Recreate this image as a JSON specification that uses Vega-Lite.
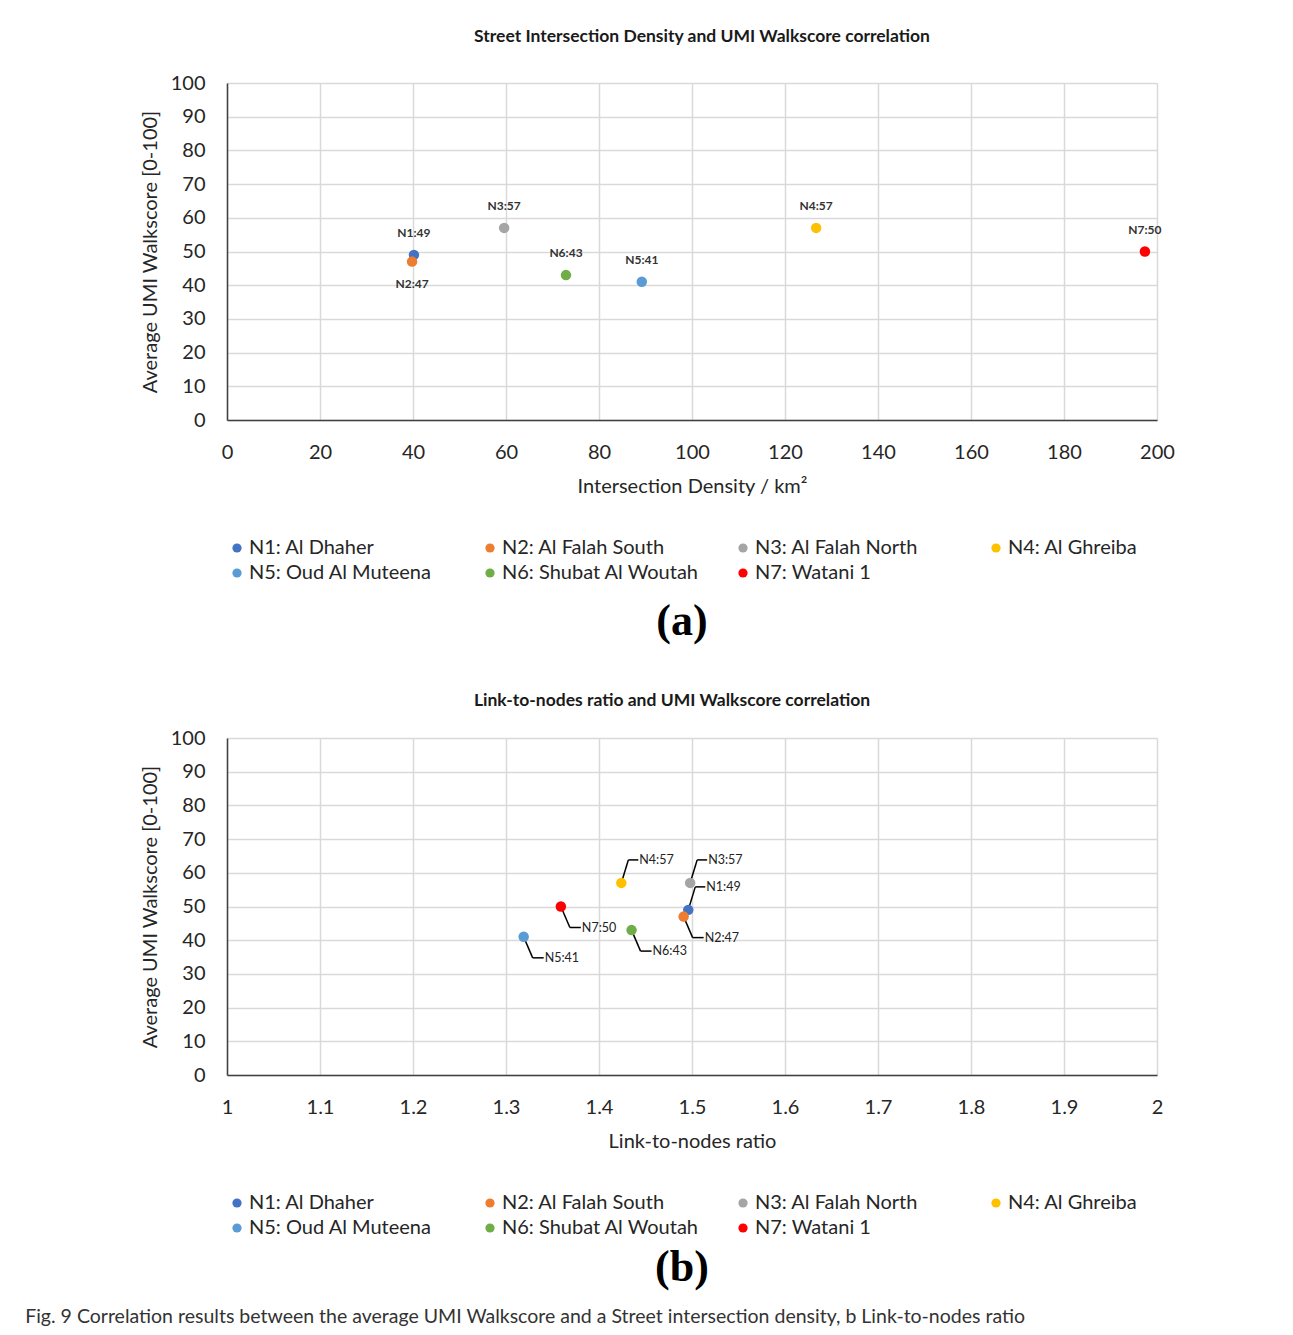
{
  "$schema": "https://vega.github.io/schema/vega-lite/v6.json",
  "padding": {"left": 25, "top": 27, "right": 10, "bottom": 0},
  "background": "white",
  "datasets": {
    "pts": [
      {"id": "N1", "name": "N1: Al Dhaher", "label": "N1:49", "density": 40.2, "ratio": 1.496, "score": 49},
      {"id": "N2", "name": "N2: Al Falah South", "label": "N2:47", "density": 39.8, "ratio": 1.491, "score": 47},
      {"id": "N3", "name": "N3: Al Falah North", "label": "N3:57", "density": 59.6, "ratio": 1.498, "score": 57},
      {"id": "N4", "name": "N4: Al Ghreiba", "label": "N4:57", "density": 126.7, "ratio": 1.424, "score": 57},
      {"id": "N5", "name": "N5: Oud Al Muteena", "label": "N5:41", "density": 89.2, "ratio": 1.319, "score": 41},
      {"id": "N6", "name": "N6: Shubat Al Woutah", "label": "N6:43", "density": 72.9, "ratio": 1.435, "score": 43},
      {"id": "N7", "name": "N7: Watani 1", "label": "N7:50", "density": 197.4, "ratio": 1.359, "score": 50}
    ]
  },
  "title": {
    "text": "Fig. 9  Correlation results between the average UMI Walkscore and a Street intersection density, b Link-to-nodes ratio",
    "orient": "bottom",
    "anchor": "start",
    "dx": -115,
    "offset": 18,
    "font": "Lato",
    "fontSize": 19.5,
    "fontWeight": "normal",
    "color": "#333333"
  },
  "spacing": 47,
  "resolve": {"scale": {"color": "independent"}, "legend": {"color": "independent"}},
  "vconcat": [
    {
      "title": {"text": "Street Intersection Density and UMI Walkscore correlation", "offset": 28, "dx": 10},
      "width": 930,
      "height": 337,
      "data": {"name": "pts"},
      "encoding": {
        "x": {"field": "density", "type": "quantitative", "scale": {"domain": [0, 200], "nice": false},
              "axis": {"title": "Intersection Density / km²", "values": [0, 20, 40, 60, 80, 100, 120, 140, 160, 180, 200]}},
        "y": {"field": "score", "type": "quantitative", "scale": {"domain": [0, 100], "nice": false},
              "axis": {"title": "Average UMI Walkscore  [0-100]", "values": [0, 10, 20, 30, 40, 50, 60, 70, 80, 90, 100]}}
      },
      "layer": [
        {
          "mark": {"type": "point", "filled": true, "opacity": 1, "size": 110, "shape": "circle"},
          "encoding": {
            "color": {"field": "name", "type": "nominal",
              "scale": {"domain": ["N1: Al Dhaher", "N2: Al Falah South", "N3: Al Falah North", "N4: Al Ghreiba", "N5: Oud Al Muteena", "N6: Shubat Al Woutah", "N7: Watani 1"],
                        "range": ["#4472C4", "#ED7D31", "#A5A5A5", "#FFC000", "#5B9BD5", "#70AD47", "#FF0000"]},
              "legend": {"title": "(a)", "titlePadding": 17}}
          }
        },
        {
          "transform": [{"filter": "datum.id != 'N2'"}],
          "mark": {"type": "text", "dy": -22, "font": "Lato", "fontSize": 12, "fontWeight": "bold", "color": "#333333"},
          "encoding": {"text": {"field": "label"}}
        },
        {
          "transform": [{"filter": "datum.id == 'N2'"}],
          "mark": {"type": "text", "dy": 22, "font": "Lato", "fontSize": 12, "fontWeight": "bold", "color": "#333333"},
          "encoding": {"text": {"field": "label"}}
        }
      ]
    },
    {
      "title": {"text": "Link-to-nodes ratio and UMI Walkscore correlation", "offset": 19, "dx": -20},
      "width": 930,
      "height": 337,
      "data": {"name": "pts"},
      "encoding": {
        "x": {"field": "ratio", "type": "quantitative", "scale": {"domain": [1, 2], "nice": false},
              "axis": {"title": "Link-to-nodes ratio", "format": ".1~f", "values": [1, 1.1, 1.2, 1.3, 1.4, 1.5, 1.6, 1.7, 1.8, 1.9, 2]}},
        "y": {"field": "score", "type": "quantitative", "scale": {"domain": [0, 100], "nice": false},
              "axis": {"title": "Average UMI Walkscore  [0-100]", "values": [0, 10, 20, 30, 40, 50, 60, 70, 80, 90, 100]}}
      },
      "layer": [
        {
          "transform": [{"filter": "indexof(['N1','N3','N4'], datum.id) >= 0"}],
          "mark": {"type": "rule", "color": "#000000", "strokeWidth": 1.5, "x2Offset": 7, "y2Offset": -23},
          "encoding": {"x2": {"field": "ratio"}, "y2": {"field": "score"}}
        },
        {
          "transform": [{"filter": "indexof(['N1','N3','N4'], datum.id) >= 0"}],
          "mark": {"type": "rule", "color": "#000000", "strokeWidth": 1.5, "xOffset": 7, "yOffset": -23, "x2Offset": 17, "y2Offset": -23},
          "encoding": {"x2": {"field": "ratio"}, "y2": {"field": "score"}}
        },
        {
          "transform": [{"filter": "indexof(['N1','N3','N4'], datum.id) < 0"}],
          "mark": {"type": "rule", "color": "#000000", "strokeWidth": 1.5, "x2Offset": 9, "y2Offset": 21},
          "encoding": {"x2": {"field": "ratio"}, "y2": {"field": "score"}}
        },
        {
          "transform": [{"filter": "indexof(['N1','N3','N4'], datum.id) < 0"}],
          "mark": {"type": "rule", "color": "#000000", "strokeWidth": 1.5, "xOffset": 9, "yOffset": 21, "x2Offset": 20, "y2Offset": 21},
          "encoding": {"x2": {"field": "ratio"}, "y2": {"field": "score"}}
        },
        {
          "mark": {"type": "point", "filled": true, "opacity": 1, "size": 110, "shape": "circle"},
          "encoding": {
            "color": {"field": "name", "type": "nominal",
              "scale": {"domain": ["N1: Al Dhaher", "N2: Al Falah South", "N3: Al Falah North", "N4: Al Ghreiba", "N5: Oud Al Muteena", "N6: Shubat Al Woutah", "N7: Watani 1"],
                        "range": ["#4472C4", "#ED7D31", "#A5A5A5", "#FFC000", "#5B9BD5", "#70AD47", "#FF0000"]},
              "legend": {"title": "(b)", "titlePadding": 8}}
          }
        },
        {
          "transform": [{"filter": "indexof(['N1','N3','N4'], datum.id) >= 0"}],
          "mark": {"type": "text", "align": "left", "baseline": "middle", "dx": 18, "dy": -23, "font": "Lato", "fontSize": 12.5, "color": "#222222"},
          "encoding": {"text": {"field": "label"}}
        },
        {
          "transform": [{"filter": "indexof(['N1','N3','N4'], datum.id) < 0"}],
          "mark": {"type": "text", "align": "left", "baseline": "middle", "dx": 21, "dy": 21, "font": "Lato", "fontSize": 12.5, "color": "#222222"},
          "encoding": {"text": {"field": "label"}}
        }
      ]
    }
  ],
  "config": {
    "font": "Lato",
    "view": {"stroke": null},
    "title": {"font": "Lato", "fontSize": 17.5, "fontWeight": "bold", "color": "#1a1a1a", "anchor": "middle"},
    "axis": {
      "domainColor": "#404040", "domainWidth": 1.5,
      "gridColor": "#d9d9d9", "gridWidth": 1.5,
      "ticks": false, "labelFlush": false, "labelOverlap": false,
      "labelFont": "Lato", "labelFontSize": 20, "labelColor": "#262626", "labelPadding": 22,
      "titleFont": "Lato", "titleFontSize": 20, "titleFontWeight": "normal", "titleColor": "#262626"
    },
    "axisX": {"titlePadding": 14},
    "axisY": {"titlePadding": 10},
    "legend": {
      "orient": "bottom", "direction": "horizontal", "columns": 4, "gridAlign": "all",
      "symbolType": "circle", "symbolSize": 85, "symbolStrokeWidth": 0, "labelOffset": 2,
      "labelFont": "Lato", "labelFontSize": 20, "labelColor": "#262626", "labelLimit": 400,
      "columnPadding": 34, "rowPadding": 5, "offset": 42,
      "titleOrient": "bottom", "titleAnchor": "middle", "titleFont": "Liberation Serif",
      "titleFontSize": 44, "titleFontWeight": "bold", "titleColor": "#000000"
    }
  }
}
